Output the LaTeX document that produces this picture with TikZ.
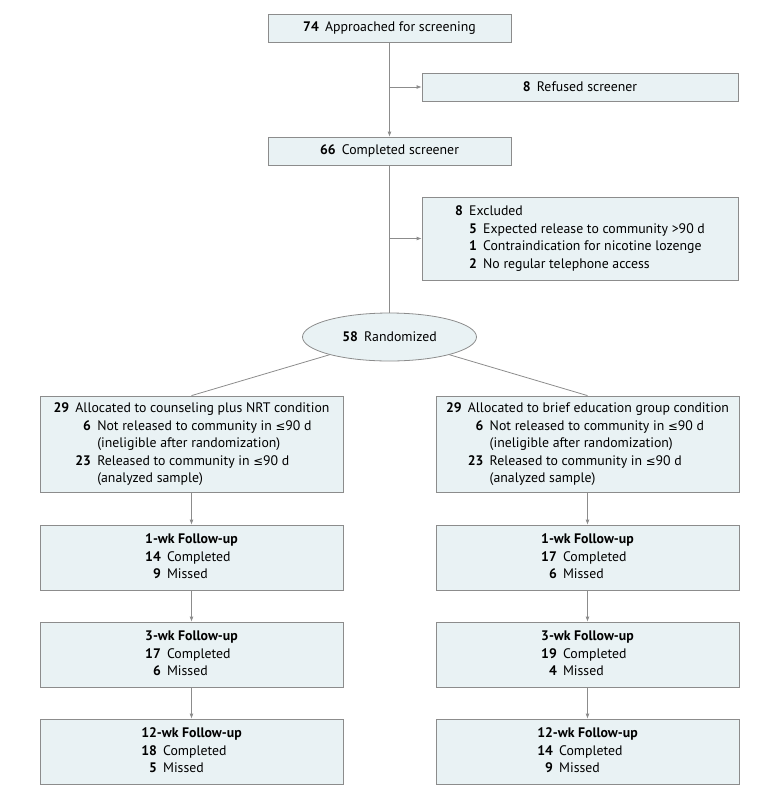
\documentclass[tikz,border=0pt]{standalone}
\usepackage{fontspec}
\setmainfont{PT Sans}
\newfontfamily\symfont{DejaVu Sans}[Scale=0.85]
\usetikzlibrary{arrows.meta,shapes.geometric}

\definecolor{boxfill}{RGB}{233,242,244}
\definecolor{boxline}{RGB}{140,140,140}
\newcommand{\leqsym}{{\symfont ≤}}
\newcommand{\cnt}[1]{\textbf{#1}\hspace{.45em}}
\newcommand{\fupbox}[3]{%
  \begin{tabular}{@{}r@{\hspace{.45em}}l@{}}
  \multicolumn{2}{@{}c@{}}{\textbf{#1-wk Follow-up}}\\
  \textbf{#2} & Completed\\
  \textbf{#3} & Missed
  \end{tabular}}

\begin{document}
\begin{tikzpicture}[x=1pt, y=-1pt,
    flowbox/.style={rectangle, draw=boxline, fill=boxfill, line width=0.8pt, inner sep=0pt, align=center,
      font=\fontsize{13.8}{17.5}\selectfont},
    narrowbox/.style={flowbox, minimum width=243pt, minimum height=28pt},
    sidebox/.style={flowbox, minimum width=316pt},
    groupbox/.style={flowbox, minimum width=303pt},
    randbox/.style={ellipse, draw=boxline, fill=boxfill, line width=0.8pt, inner sep=0pt,
      minimum width=174pt, minimum height=48pt, font=\fontsize{13.8}{17.5}\selectfont},
    line/.style={draw=boxline, line width=0.8pt},
    arrow/.style={line, -{Latex[length=5pt,width=4pt]}}
]
\useasboundingbox (0,0) rectangle (780,796);

% Screening
\node[narrowbox] (approached) at (389.5,28) {\cnt{74}Approached for screening};
\node[sidebox, minimum height=28pt] (refused) at (580,87) {\cnt{8}Refused screener};
\node[narrowbox] (completed) at (389.5,151) {\cnt{66}Completed screener};
\node[sidebox, minimum height=83pt] (excluded) at (580,238.5) {%
  \begin{tabular}{@{}r@{\hspace{.45em}}r@{\hspace{.45em}}l@{}}
  \textbf{8} & \multicolumn{2}{@{}l@{}}{Excluded}\\
  & \textbf{5} & Expected release to community >90 d\\
  & \textbf{1} & Contraindication for nicotine lozenge\\
  & \textbf{2} & No regular telephone access
  \end{tabular}};
\node[randbox] (rand) at (389.5,337) {\cnt{58}Randomized};

\coordinate (split1) at (approached |- refused);
\coordinate (split2) at (completed |- excluded);
\draw[arrow] (approached) -- (completed);
\draw[arrow] (split1) -- (refused);
\draw[line] (completed) -- (rand);
\draw[arrow] (split2) -- (excluded);

% Allocation
\node[groupbox, minimum height=96pt] (nrt) at (191.5,444) {%
  \begin{tabular}{@{}r@{\hspace{.45em}}r@{\hspace{.45em}}l@{}}
  \textbf{29} & \multicolumn{2}{@{}l@{}}{Allocated to counseling plus NRT condition}\\
  & \textbf{6} & Not released to community in \leqsym90 d\\
  & & (ineligible after randomization)\\
  & \textbf{23} & Released to community in \leqsym90 d\\
  & & (analyzed sample)
  \end{tabular}};
\node[groupbox, minimum height=96pt] (edu) at (587.5,444) {%
  \begin{tabular}{@{}r@{\hspace{.45em}}r@{\hspace{.45em}}l@{}}
  \textbf{29} & \multicolumn{2}{@{}l@{}}{Allocated to brief education group condition}\\
  & \textbf{6} & Not released to community in \leqsym90 d\\
  & & (ineligible after randomization)\\
  & \textbf{23} & Released to community in \leqsym90 d\\
  & & (analyzed sample)
  \end{tabular}};
\draw[line] (rand) -- (nrt.north);
\draw[line] (rand) -- (edu.north);

% Follow-up, counseling plus NRT
\node[groupbox, minimum height=65pt] (nrt1) at (191.5,557.5) {\fupbox{1}{14}{9}};
\node[groupbox, minimum height=65pt] (nrt3) at (191.5,654.5) {\fupbox{3}{17}{6}};
\node[groupbox, minimum height=65pt] (nrt12) at (191.5,751.5) {\fupbox{12}{18}{5}};

% Follow-up, brief education
\node[groupbox, minimum height=65pt] (edu1) at (587.5,557.5) {\fupbox{1}{17}{6}};
\node[groupbox, minimum height=65pt] (edu3) at (587.5,654.5) {\fupbox{3}{19}{4}};
\node[groupbox, minimum height=65pt] (edu12) at (587.5,751.5) {\fupbox{12}{14}{9}};

\draw[arrow] (nrt) -- (nrt1);
\draw[arrow] (nrt1) -- (nrt3);
\draw[arrow] (nrt3) -- (nrt12);
\draw[arrow] (edu) -- (edu1);
\draw[arrow] (edu1) -- (edu3);
\draw[arrow] (edu3) -- (edu12);
\end{tikzpicture}
\end{document}
